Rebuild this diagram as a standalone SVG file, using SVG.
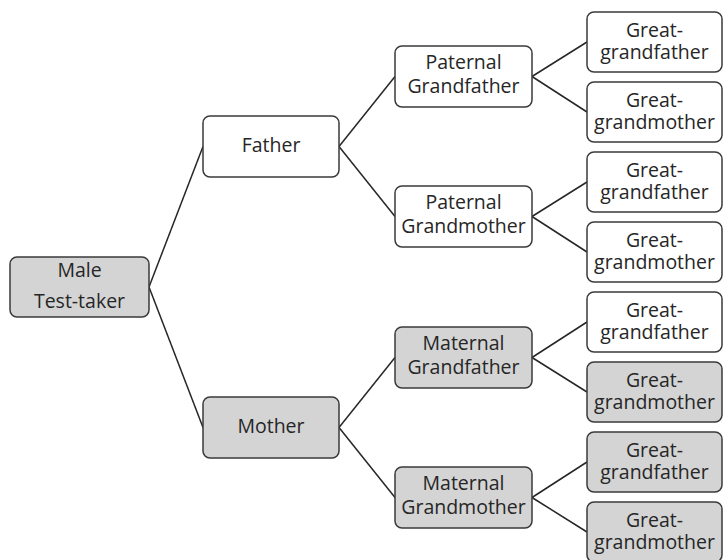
<svg xmlns="http://www.w3.org/2000/svg" width="723" height="560" viewBox="0 0 723 560">
<style>
.b{stroke:#3a3a3a;stroke-width:1.5}
.w{fill:#ffffff}
.g{fill:#d4d4d4}
text{font-family:"Open Sans","DejaVu Sans",sans-serif;font-size:19.5px;fill:#262626;text-anchor:middle}
.c line{stroke:#262626;stroke-width:1.5}
</style>
<rect width="723" height="560" fill="#ffffff"/>
<g class="c" id="connectors">
<line x1="149" y1="287" x2="203" y2="146.5"/>
<line x1="149" y1="287" x2="203" y2="427.5"/>
<line x1="339" y1="146.5" x2="395" y2="76.5"/>
<line x1="339" y1="146.5" x2="395" y2="216.5"/>
<line x1="339" y1="427.5" x2="395" y2="357.5"/>
<line x1="339" y1="427.5" x2="395" y2="497.5"/>
<line x1="532" y1="76.5" x2="587" y2="42"/>
<line x1="532" y1="76.5" x2="587" y2="112"/>
<line x1="532" y1="216.5" x2="587" y2="182"/>
<line x1="532" y1="216.5" x2="587" y2="252"/>
<line x1="532" y1="357.5" x2="587" y2="322"/>
<line x1="532" y1="357.5" x2="587" y2="392"/>
<line x1="532" y1="497.5" x2="587" y2="462"/>
<line x1="532" y1="497.5" x2="587" y2="532"/>
</g>
<g id="male"><rect class="b g" x="10" y="257" width="139" height="60" rx="7"/><text x="79.5" y="277">Male</text><text x="79.5" y="308">Test-taker</text></g>
<g id="father"><rect class="b w" x="203" y="116" width="136" height="61" rx="7"/><text x="271" y="152">Father</text></g>
<g id="mother"><rect class="b g" x="203" y="397" width="136" height="61" rx="7"/><text x="271" y="433">Mother</text></g>
<g id="pgf"><rect class="b w" x="395" y="46" width="137" height="61" rx="7"/><text x="463.5" y="69">Paternal</text><text x="463.5" y="93">Grandfather</text></g>
<g id="pgm"><rect class="b w" x="395" y="186" width="137" height="61" rx="7"/><text x="463.5" y="209">Paternal</text><text x="463.5" y="233">Grandmother</text></g>
<g id="mgf"><rect class="b g" x="395" y="327" width="137" height="61" rx="7"/><text x="463.5" y="350">Maternal</text><text x="463.5" y="374">Grandfather</text></g>
<g id="mgm"><rect class="b g" x="395" y="467" width="137" height="61" rx="7"/><text x="463.5" y="490">Maternal</text><text x="463.5" y="514">Grandmother</text></g>
<g id="ggf1"><rect class="b w" x="587" y="12" width="135" height="60" rx="7"/><text x="654.5" y="37">Great-</text><text x="654.5" y="59">grandfather</text></g>
<g id="ggm1"><rect class="b w" x="587" y="82" width="135" height="60" rx="7"/><text x="654.5" y="107">Great-</text><text x="654.5" y="129">grandmother</text></g>
<g id="ggf2"><rect class="b w" x="587" y="152" width="135" height="60" rx="7"/><text x="654.5" y="177">Great-</text><text x="654.5" y="199">grandfather</text></g>
<g id="ggm2"><rect class="b w" x="587" y="222" width="135" height="60" rx="7"/><text x="654.5" y="247">Great-</text><text x="654.5" y="269">grandmother</text></g>
<g id="ggf3"><rect class="b w" x="587" y="292" width="135" height="60" rx="7"/><text x="654.5" y="317">Great-</text><text x="654.5" y="339">grandfather</text></g>
<g id="ggm3"><rect class="b g" x="587" y="362" width="135" height="60" rx="7"/><text x="654.5" y="387">Great-</text><text x="654.5" y="409">grandmother</text></g>
<g id="ggf4"><rect class="b g" x="587" y="432" width="135" height="60" rx="7"/><text x="654.5" y="457">Great-</text><text x="654.5" y="479">grandfather</text></g>
<g id="ggm4"><rect class="b g" x="587" y="502" width="135" height="60" rx="7"/><text x="654.5" y="527">Great-</text><text x="654.5" y="549">grandmother</text></g>
</svg>
